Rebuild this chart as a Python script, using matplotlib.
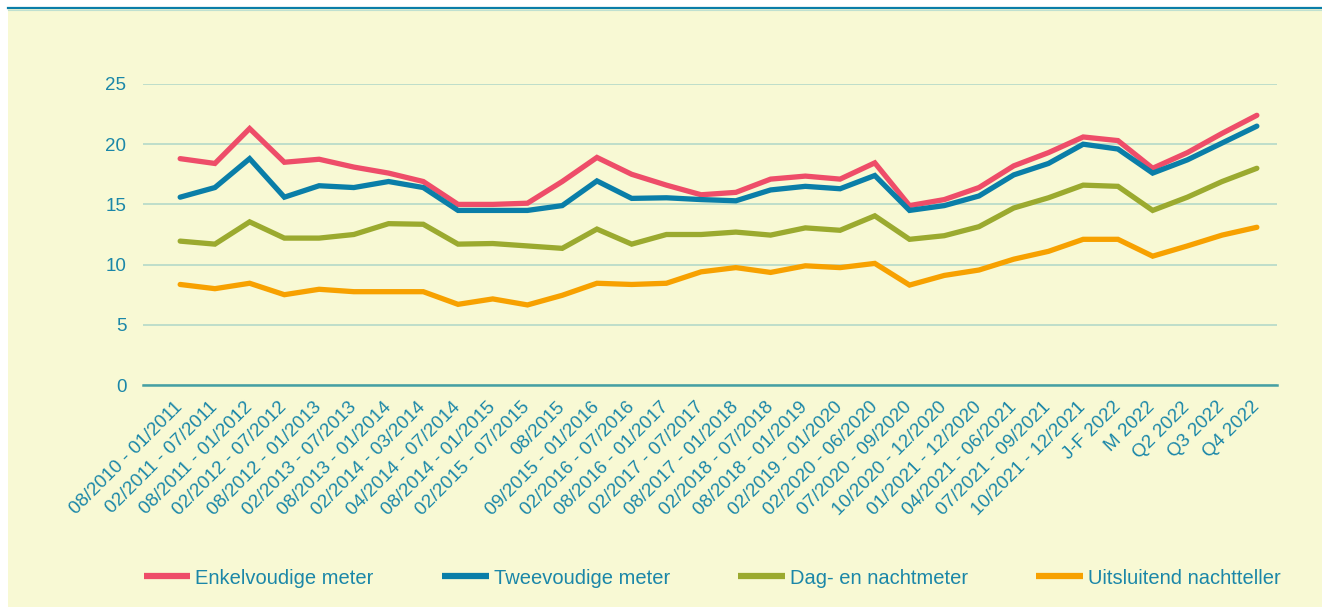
import matplotlib
matplotlib.use("Agg")
import matplotlib.pyplot as plt
from matplotlib.patches import Rectangle
from matplotlib.lines import Line2D

plt.rcParams['font.family'] = ['Liberation Sans', 'DejaVu Sans']

periods = [
    "08/2010 - 01/2011", "02/2011 - 07/2011", "08/2011 - 01/2012", "02/2012 - 07/2012",
    "08/2012 - 01/2013", "02/2013 - 07/2013", "08/2013 - 01/2014", "02/2014 - 03/2014",
    "04/2014 - 07/2014", "08/2014 - 01/2015", "02/2015 - 07/2015", "08/2015",
    "09/2015 - 01/2016", "02/2016 - 07/2016", "08/2016 - 01/2017", "02/2017 - 07/2017",
    "08/2017 - 01/2018", "02/2018 - 07/2018", "08/2018 - 01/2019", "02/2019 - 01/2020",
    "02/2020 - 06/2020", "07/2020 - 09/2020", "10/2020 - 12/2020", "01/2021 - 12/2020",
    "04/2021 - 06/2021", "07/2021 - 09/2021", "10/2021 - 12/2021", "J-F 2022",
    "M 2022", "Q2 2022", "Q3 2022", "Q4 2022",
]

enkelvoudig = [18.8, 18.4, 21.3, 18.5, 18.75, 18.1, 17.6, 16.9, 15.0, 15.0, 15.1, 16.9,
               18.9, 17.5, 16.6, 15.8, 16.0, 17.1, 17.35, 17.1, 18.45, 14.9, 15.4, 16.4,
               18.2, 19.3, 20.6, 20.3, 18.0, 19.3, 20.9, 22.4]
tweevoudig = [15.6, 16.4, 18.8, 15.6, 16.55, 16.4, 16.9, 16.4, 14.5, 14.5, 14.5, 14.9,
              16.95, 15.5, 15.55, 15.4, 15.3, 16.2, 16.5, 16.3, 17.4, 14.5, 14.9, 15.7,
              17.45, 18.4, 20.0, 19.6, 17.6, 18.7, 20.1, 21.5]
dag_nacht = [11.95, 11.7, 13.55, 12.2, 12.2, 12.5, 13.4, 13.35, 11.7, 11.75, 11.55, 11.35,
             12.95, 11.7, 12.5, 12.5, 12.7, 12.45, 13.05, 12.85, 14.05, 12.1, 12.4, 13.15,
             14.7, 15.55, 16.6, 16.5, 14.5, 15.6, 16.9, 18.0]
nachtteller = [8.35, 8.0, 8.45, 7.5, 7.95, 7.75, 7.75, 7.75, 6.7, 7.15, 6.65, 7.45,
               8.45, 8.35, 8.45, 9.4, 9.75, 9.35, 9.9, 9.75, 10.1, 8.3, 9.1, 9.55,
               10.45, 11.1, 12.1, 12.1, 10.7, 11.55, 12.45, 13.1]

series = [
    ("Enkelvoudige meter", enkelvoudig, "#EE4D69"),
    ("Tweevoudige meter", tweevoudig, "#0A7EA8"),
    ("Dag- en nachtmeter", dag_nacht, "#9BAA2F"),
    ("Uitsluitend nachtteller", nachtteller, "#F7A100"),
]

text_color = "#1B87A8"
bg = "#F8F9D4"
fs = 13.5

fig = plt.figure(figsize=(13.22, 6.07), dpi=100, facecolor="white")
fig.patches.append(Rectangle((8 / 1322, 0), 1, 1 - 9 / 607, transform=fig.transFigure,
                             facecolor=bg, edgecolor="none", zorder=-5))
fig.add_artist(Line2D([8 / 1322, 1], [1 - 8 / 607] * 2, transform=fig.transFigure,
                      color="#0A7EA8", linewidth=1.6))
fig.add_artist(Line2D([8 / 1322, 1], [1 - 9.7 / 607] * 2, transform=fig.transFigure,
                      color="#BFE0D0", linewidth=0.8))

ax = fig.add_axes([143 / 1322, 1 - 385 / 607, (1277 - 143) / 1322, (385 - 84) / 607])
ax.set_facecolor("none")
ax.set_zorder(2)

x = list(range(len(periods)))
for name, vals, col in series:
    ax.plot(x, vals, color=col, linewidth=3.8, label=name, solid_capstyle="round",
            solid_joinstyle="miter")

ax.set_ylim(0, 25)
ax.set_xlim(-1.07, 31.58)
ax.set_yticks([0, 5, 10, 15, 20, 25])
ax.yaxis.grid(True, color="#B9DCC9", linewidth=1.3)
ax.set_axisbelow(True)
for s in ["top", "right", "left"]:
    ax.spines[s].set_visible(False)
ax.spines["bottom"].set_color("#46A0A3")
ax.spines["bottom"].set_linewidth(1.8)

ax.set_xticks(x)
ax.set_xticklabels(periods, rotation=45, ha="right", va="center", rotation_mode="anchor")
ax.tick_params(axis="both", length=0, labelsize=fs, labelcolor=text_color)
ax.tick_params(axis="y", pad=12)
ax.tick_params(axis="x", pad=14)

leg = fig.legend(loc="center left", bbox_to_anchor=(136 / 1322, 1 - 578 / 607), ncol=4,
                 frameon=False, fontsize=14.5, handlelength=2.3, handletextpad=0.25,
                 columnspacing=3.4, borderaxespad=0)
for t in leg.get_texts():
    t.set_color(text_color)
for h in leg.legend_handles:
    h.set_linewidth(4.5)
    h.set_solid_capstyle("butt")

fig.savefig("out.png", dpi=100, facecolor="white")
